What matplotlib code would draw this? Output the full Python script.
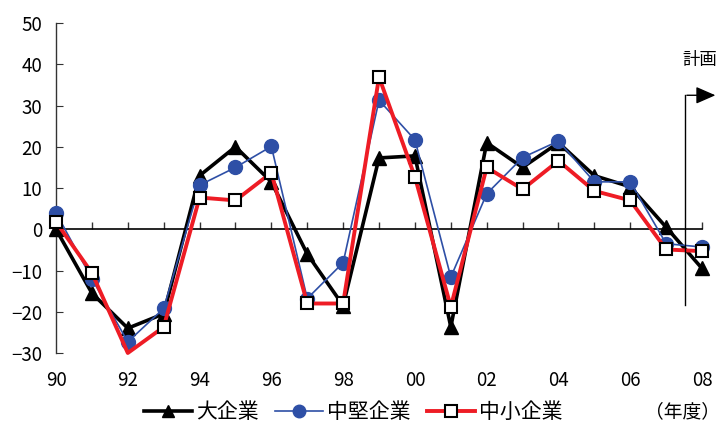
import matplotlib
matplotlib.use("Agg")
import matplotlib.pyplot as plt

plt.rcParams['font.family'] = ['Noto Sans CJK JP', 'DejaVu Sans']

years = list(range(1990, 2009))
tick_years = list(range(1990, 2009, 2))
tick_labels = ['90', '92', '94', '96', '98', '00', '02', '04', '06', '08']

large = [0, -15.5, -24, -20.5, 13, 20, 11.5, -6, -18.5, 17.3, 17.8, -23.7, 21, 15, 21, 13, 10.3, 0.5, -9.5]
mid = [4, -12, -27.3, -19.2, 10.7, 15, 20.1, -16.8, -8.1, 31.3, 21.7, -11.6, 8.6, 17.4, 21.4, 11.5, 11.5, -3.5, -4.3]
small = [1.8, -10.6, -30, -23.7, 7.7, 7, 13.7, -18, -18, 36.9, 12.7, -18.8, 15, 9.7, 16.6, 9.3, 7, -4.9, -5.3]

series_names = ['大企業', '中堅企業', '中小企業']

fig = plt.figure(figsize=(7.21, 4.24), dpi=100)
ax = fig.add_axes([0.0777, 0.1675, 0.896, 0.778])

ax.set_xlim(1990, 2008)
ax.set_ylim(-30, 50)

l1, = ax.plot(years, large, color='black', lw=2.6, marker='^', ms=10,
              mfc='black', mec='black', clip_on=False, zorder=3)
l2, = ax.plot(years, mid, color='#2E4FA6', lw=1.2, marker='o', ms=10,
              mfc='#2E4FA6', mec='#2E4FA6', clip_on=False, zorder=4)
# the reference omits the square marker at 1992
small_marks = [i for i in range(len(years)) if years[i] != 1992]
l3, = ax.plot(years, small, color='#EE1C25', lw=2.8, marker='s', ms=9,
              mfc='white', mec='black', mew=1.5, clip_on=False, zorder=5,
              markevery=small_marks)

for s in ['top', 'right', 'bottom']:
    ax.spines[s].set_visible(False)
ax.spines['left'].set_color('#333333')
ax.spines['left'].set_linewidth(1.0)

ax.set_yticks(range(-30, 51, 10))
ax.tick_params(axis='y', direction='in', length=5, labelsize=13.5, pad=10,
               colors='#333333', labelcolor='black')
ax.set_xticks(tick_years)
ax.set_xticklabels(tick_labels)
ax.tick_params(axis='x', length=0, labelsize=13.5, pad=12)

# zero line with tick marks
sec = ax.secondary_xaxis(30 / 80)
sec.set_xticks(years)
sec.set_xticklabels([''] * len(years))
sec.tick_params(axis='x', direction='in', length=5, width=1.0, colors='#333333')
sec.spines['bottom'].set_color('black')
sec.spines['bottom'].set_linewidth(1.2)

# plan marker
ax.plot([2007.53, 2007.53], [-18.4, 32.5], color='black', lw=1.0, clip_on=False, zorder=6)
ax.annotate('', xy=(2008.45, 32.5), xytext=(2007.5, 32.5),
            arrowprops=dict(arrowstyle='-|>,head_length=0.8,head_width=0.35',
                            color='black', lw=1.0, mutation_scale=15),
            annotation_clip=False, zorder=6)
ax.text(2007.95, 41, '計画', fontsize=12.5, ha='center', va='center', clip_on=False)

handles = [l1, l2, l3]
fig.legend(handles, series_names, loc='center', bbox_to_anchor=(0.49, 0.028),
           ncol=3, frameon=False, fontsize=15, handlelength=2.3,
           handletextpad=0.2, columnspacing=0.8, markerscale=0.9)
fig.text(0.998, 0.028, '（年度）', fontsize=13.5, ha='right', va='center')

fig.savefig('out.png', dpi=100)
